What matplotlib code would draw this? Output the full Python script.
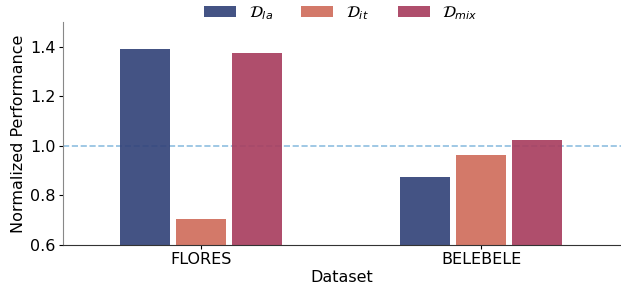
import matplotlib
matplotlib.use("Agg")
import matplotlib.pyplot as plt
import numpy as np

datasets = ["FLORES", "BELEBELE"]
series_labels = [r"$\mathcal{D}_{la}$", r"$\mathcal{D}_{it}$", r"$\mathcal{D}_{mix}$"]
d_la = [1.389, 0.876]
d_it = [0.706, 0.962]
d_mix = [1.376, 1.023]
colors = ["#34447a", "#d06e5c", "#a83f60"]

fs = 11.5
fig = plt.figure(figsize=(6.21, 2.88), dpi=100)
ax = fig.add_axes([0.101, 0.149, 0.899, 0.775])
x = np.arange(len(datasets))
w = 0.18
off = 0.2
ax.axhline(1.0, color="#8fbfe0", linestyle="--", linewidth=1.2, zorder=1)
for i, (vals, lab, c) in enumerate(zip([d_la, d_it, d_mix], series_labels, colors)):
    ax.bar(x + (i - 1) * off, vals, width=w, color=c, alpha=0.92, label=lab, zorder=2)

ax.set_ylim(0.6, 1.5)
ax.set_xlim(-0.495, 1.5)
ax.set_yticks([0.6, 0.8, 1.0, 1.2, 1.4])
ax.set_xticks(x)
ax.set_xticklabels(datasets)
ax.tick_params(labelsize=fs, length=3, pad=2)
ax.set_xlabel("Dataset", fontsize=fs, labelpad=2)
ax.set_ylabel("Normalized Performance", fontsize=fs, labelpad=3)
for s in ["top", "right"]:
    ax.spines[s].set_visible(False)
ax.spines["left"].set_color("#888888")
ax.spines["bottom"].set_color("#333333")
fig.legend(loc="center", bbox_to_anchor=(0.549, 0.955), ncol=3, frameon=False,
           fontsize=fs, handlelength=2.0, handletextpad=0.8, columnspacing=1.8)
fig.savefig("out.png", dpi=100)
